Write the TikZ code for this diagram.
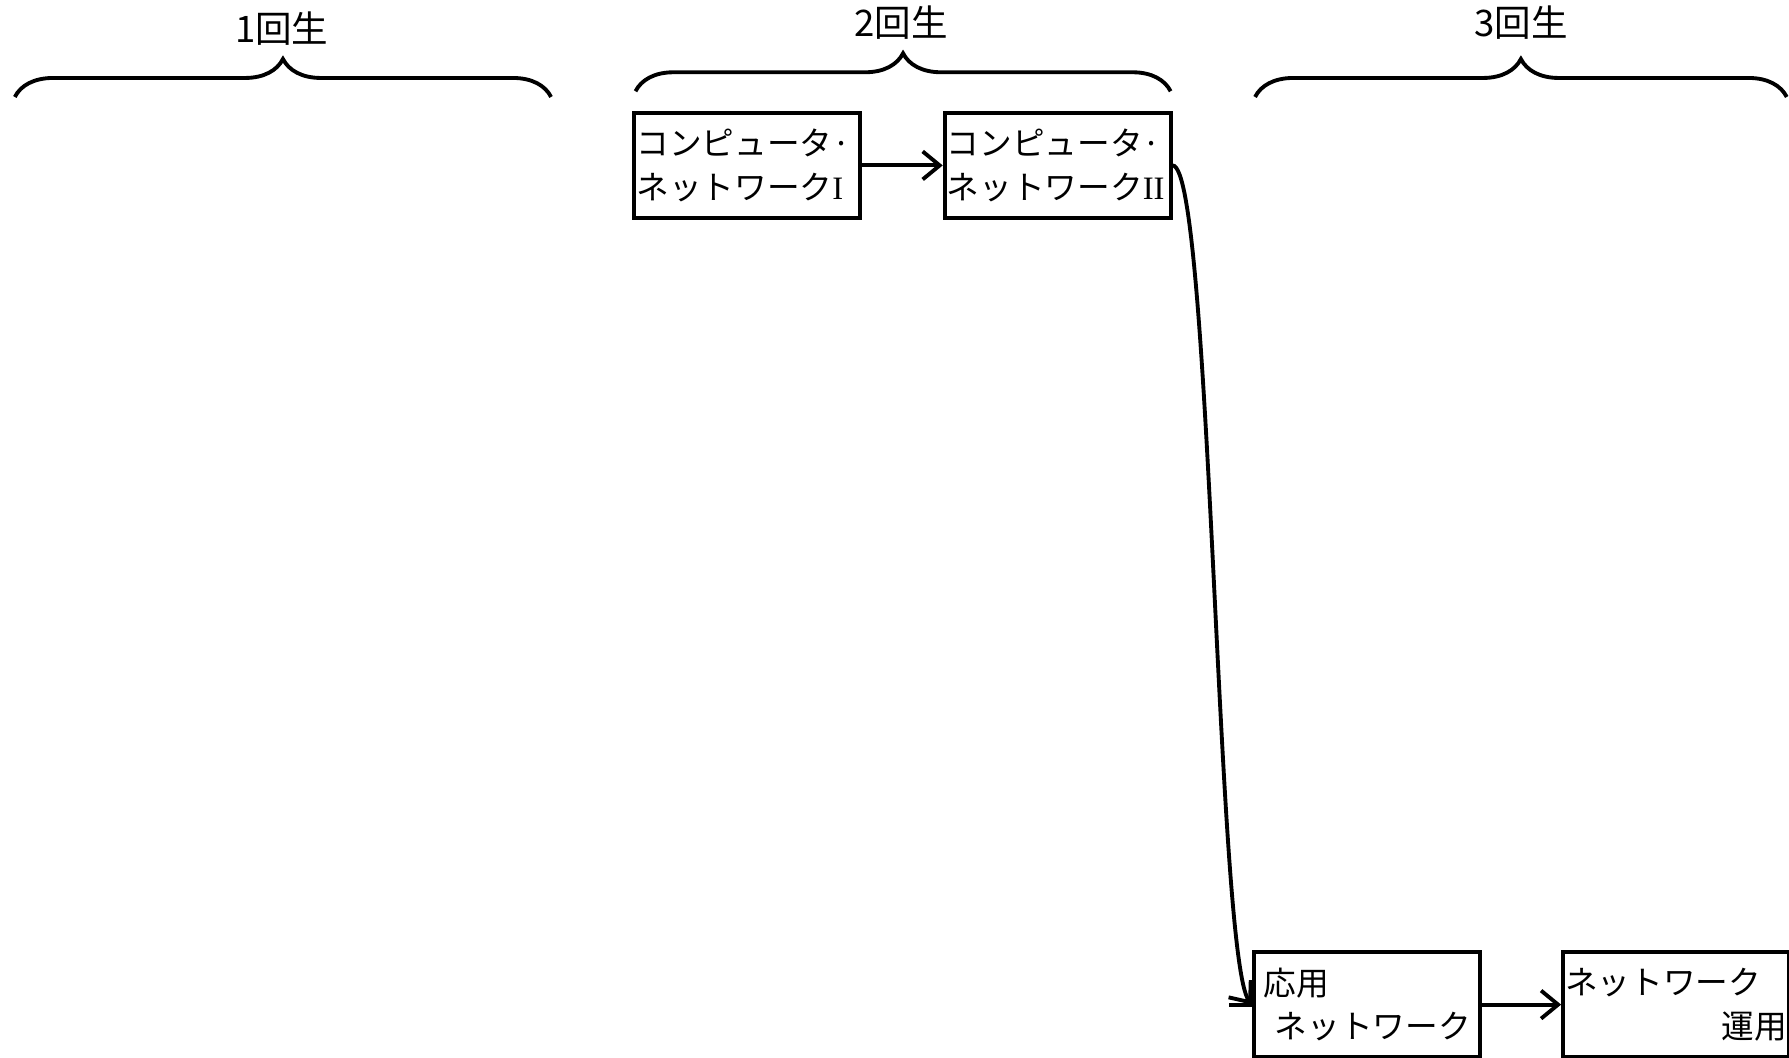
\documentclass[tikz,border=0pt]{standalone}
\usepackage{fontspec}
\setmainfont{Noto Sans CJK JP}
\newfontfamily\latinserif{Liberation Serif}
\usetikzlibrary{arrows.meta,decorations.pathreplacing}

\begin{document}
\begin{tikzpicture}[x=0.1141mm, y=-0.1141mm,
		course/.style={draw, line width=1.1pt, minimum width=22.6mm, minimum height=10.5mm, text width=22.2mm, inner xsep=0.2mm, align=left, font=\fontsize{9.3}{12.3}\selectfont},
		flow/.style={line width=1.1pt, -{Straight Barb[length=1.7mm, width=2.8mm]}},
		grade/.style={decorate, decoration={brace, amplitude=3.8mm}, line width=1.1pt},
		gradelabel/.style={font=\fontsize{10.4}{12}\selectfont, inner sep=0pt}]
		%%%%% START %%%%%
		
		\useasboundingbox (0, 0) rectangle (1568, 927);
		
		\draw[grade] (13, 85) -- (483, 85);
		\node[gradelabel] (g1) at (247, 25) {1回生};
		\draw[grade] (557, 80) -- (1026, 80);
		\node[gradelabel] (g2) at (790, 20) {2回生};
		\draw[grade] (1100, 85) -- (1566, 85);
		\node[gradelabel] (g3) at (1333, 20) {3回生};
		
		\node[course] (net1) at (655, 145) {コンピュータ·\\ネットワーク{\latinserif I}};
		\node[course] (net2) at (927, 145) {コンピュータ·\\ネットワーク{\latinserif II}};
		
		\node[course] (apnet) at (1198, 880.5) {\hspace*{0.8mm}応用\\\hspace*{1.9mm}ネットワーク};
		\node[course] (netop) at (1469, 880.5) {ネットワーク\\\hfill 運用};
		
		\draw[flow] (net1) -- (net2);
		\draw[flow] (net2.east) .. controls +(34, 0) and +(-31, -40) .. (apnet.west);
		\draw[line width=1.1pt] (apnet.west) -- ++(-20, 0);
		\draw[flow] (apnet) -- (netop);
		
		%%%%% END %%%%%
\end{tikzpicture}
\end{document}
